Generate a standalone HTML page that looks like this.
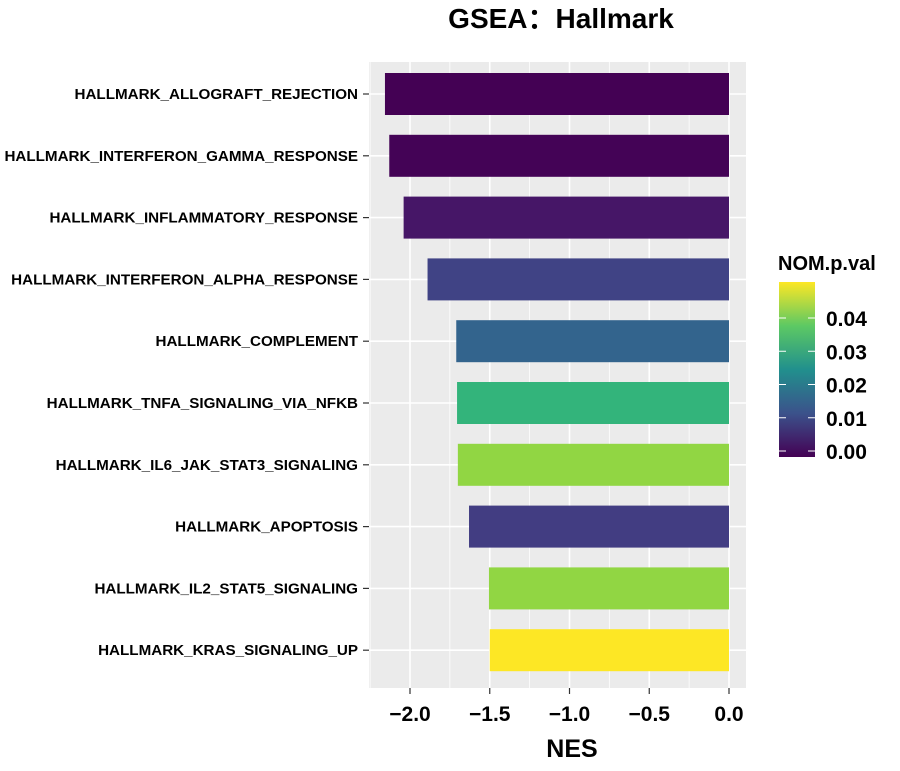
<!DOCTYPE html>
<html><head><meta charset="utf-8"><style>
body{margin:0;background:#fff;}
svg text{font-family:"Liberation Sans",Arial,sans-serif;font-weight:bold;}
</style></head><body>
<svg id="chart" width="900" height="766" xmlns="http://www.w3.org/2000/svg">
<defs><linearGradient id="vg" x1="0" y1="1" x2="0" y2="0">
<stop offset="0" stop-color="#440154"/><stop offset="0.25" stop-color="#3b528b"/><stop offset="0.5" stop-color="#21908d"/><stop offset="0.75" stop-color="#5dc963"/><stop offset="1" stop-color="#fde725"/>
</linearGradient></defs>
<text x="561" y="28" font-size="28" text-anchor="middle">GSEA：Hallmark</text>
<rect x="369" y="62" width="377" height="626" fill="#ebebeb"/>
<g id="grid"></g><g id="bars"></g><g id="yaxis"></g><g id="xaxis"></g>
<text x="572" y="757" font-size="25" text-anchor="middle">NES</text>
<text x="778" y="270" font-size="20">NOM.p.val</text>
<rect x="779" y="282" width="36" height="175" fill="url(#vg)"/>
<g id="legend"></g>
</svg>
<script>
const categories=["HALLMARK_ALLOGRAFT_REJECTION","HALLMARK_INTERFERON_GAMMA_RESPONSE","HALLMARK_INFLAMMATORY_RESPONSE","HALLMARK_INTERFERON_ALPHA_RESPONSE","HALLMARK_COMPLEMENT","HALLMARK_TNFA_SIGNALING_VIA_NFKB","HALLMARK_IL6_JAK_STAT3_SIGNALING","HALLMARK_APOPTOSIS","HALLMARK_IL2_STAT5_SIGNALING","HALLMARK_KRAS_SIGNALING_UP"];
const nes=[-2.157,-2.13,-2.04,-1.89,-1.71,-1.705,-1.70,-1.63,-1.505,-1.50];
const pvals=[0.0,0.0003,0.003,0.010,0.016,0.033,0.042,0.009,0.042,0.0504];
const xTicks=[-2.0,-1.5,-1.0,-0.5,0.0];
const xTickLabels=["\u22122.0","\u22121.5","\u22121.0","\u22120.5","0.0"];
const legendTicks=[0,0.01,0.02,0.03,0.04];
const legendLabels=["0.00","0.01","0.02","0.03","0.04"];
const NS="http://www.w3.org/2000/svg";
const cMin=Math.min(...pvals),cMax=Math.max(...pvals);
const x=v=>729+v*159.5;
const y=i=>94+i*61.8;
const cy=p=>451-p*3325;
const vir=[[68,1,84],[72,40,120],[62,74,137],[49,104,142],[38,130,142],[31,158,137],[53,183,121],[109,205,89],[180,222,44],[253,231,37]];
function col(p){let t=Math.max(0,Math.min(1,(p-cMin)/(cMax-cMin)))*9;let i=Math.min(8,Math.floor(t)),f=t-i;
const c=vir[i].map((a,k)=>Math.round(a+(vir[i+1][k]-a)*f));return `rgb(${c})`;}
function mk(tag,at,parent){const e=document.createElementNS(NS,tag);for(const k in at)e.setAttribute(k,at[k]);document.getElementById(parent).appendChild(e);return e;}
for(let v=-2.25;v<=0.25;v+=0.25){const major=Math.abs(v*2-Math.round(v*2))<1e-6;
 if(x(v)<369||x(v)>746)continue;
 const g=mk('line',{x1:x(v),x2:x(v),y1:62,y2:688,stroke:'#fff','stroke-width':major?1.6:0.8},'grid');
 
 }
categories.forEach((c,i)=>{
 const g=mk('line',{x1:369,x2:746,y1:y(i),y2:y(i),stroke:'#fff','stroke-width':1.6},'grid');
 
 
 const b=mk('rect',{x:x(nes[i]),y:y(i)-21,width:x(0)-x(nes[i]),height:42,fill:col(pvals[i])},'bars');
 
 
 const t=mk('line',{x1:363,x2:369,y1:y(i),y2:y(i),stroke:'#333','stroke-width':1.2},'yaxis');
 
 
 const l=mk('text',{x:358,y:y(i)+5,'font-size':15.2,'text-anchor':'end'},'yaxis');l.textContent=c;
 
 
});
xTicks.forEach((v,i)=>{
 const t=mk('line',{x1:x(v),x2:x(v),y1:688,y2:694,stroke:'#333','stroke-width':1.2},'xaxis');
 
 
 const l=mk('text',{x:x(v),y:721,'font-size':21,'text-anchor':'middle'},'xaxis');l.textContent=xTickLabels[i];
 
 
});
legendTicks.forEach((v,i)=>{
 const a=mk('line',{x1:779,x2:786,y1:cy(v),y2:cy(v),stroke:'#fff','stroke-width':1},'legend');
 
 
 const b=mk('line',{x1:808,x2:815,y1:cy(v),y2:cy(v),stroke:'#fff','stroke-width':1},'legend');
 
 
 const l=mk('text',{x:826,y:cy(v)+8,'font-size':21},'legend');l.textContent=legendLabels[i];
 
 
});
</script>
</body></html>
